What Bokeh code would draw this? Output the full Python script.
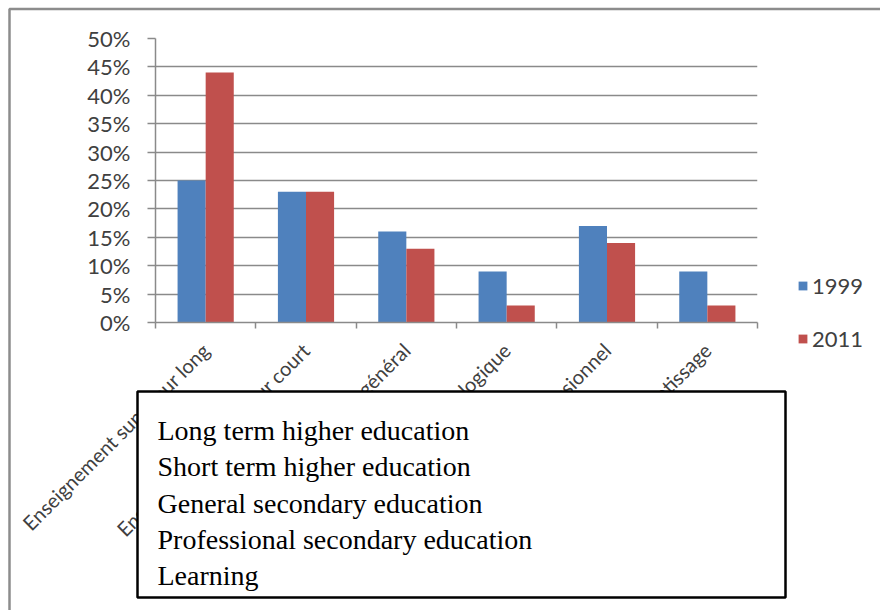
from bokeh.plotting import figure
from bokeh.models import (Range1d, FixedTicker, NumeralTickFormatter, Legend, LegendItem,
                          BoxAnnotation, Label, ColumnDataSource, CustomJSTickFormatter)
from bokeh.embed import file_html
from bokeh.resources import INLINE

# ---------------- data ----------------
categories = [
    "Enseignement supérieur long",
    "Enseignement supérieur court",
    "Secondaire général",
    "Secondaire technologique",
    "Secondaire professionnel",
    "Apprentissage",
]
series_names = ["1999", "2011"]
values_1999 = [0.25, 0.23, 0.16, 0.09, 0.17, 0.09]
values_2011 = [0.44, 0.23, 0.13, 0.03, 0.14, 0.03]
y_ticks = [0.0, 0.05, 0.10, 0.15, 0.20, 0.25, 0.30, 0.35, 0.40, 0.45, 0.50]
overlay_lines = [
    "Long term higher education",
    "Short term higher education",
    "General secondary education",
    "Professional secondary education",
    "Learning",
]

BLUE = "#4F81BD"
RED = "#C0504D"
TXT = "#404040"
GRID = "#8a8a8a"
FONT = "Lato"
W, H = 880, 610

centers = [i + 0.5 for i in range(len(categories))]
bar_w = 0.28
src = ColumnDataSource(dict(
    x1=[c - bar_w / 2 for c in centers],
    x2=[c + bar_w / 2 for c in centers],
    v1999=values_1999,
    v2011=values_2011,
))

# ---------------- main chart ----------------
p = figure(frame_width=602, frame_height=284,
           min_border_left=155, min_border_right=W - 155 - 602,
           min_border_top=38, min_border_bottom=H - 38 - 284,
           x_range=Range1d(0, len(categories)), y_range=Range1d(0, 0.5),
           output_backend="svg", toolbar_location=None, tools="")
p.outline_line_color = None
p.background_fill_color = "white"
p.border_fill_color = "white"

r1 = p.vbar(x="x1", top="v1999", width=bar_w, bottom=0, source=src,
            fill_color=BLUE, line_color=None)
r2 = p.vbar(x="x2", top="v2011", width=bar_w, bottom=0, source=src,
            fill_color=RED, line_color=None)

p.xgrid.visible = False
p.ygrid.ticker = FixedTicker(ticks=y_ticks)
p.ygrid.grid_line_color = GRID
p.ygrid.grid_line_width = 1.5

ya = p.yaxis[0]
ya.ticker = FixedTicker(ticks=y_ticks)
ya.formatter = NumeralTickFormatter(format="0%")
ya.axis_line_color = GRID
ya.axis_line_width = 1.5
ya.major_tick_line_color = GRID
ya.major_tick_line_width = 1.5
ya.major_tick_out = 8
ya.major_tick_in = 0
ya.minor_tick_line_color = None
ya.major_label_standoff = 17
ya.major_label_text_font = FONT
ya.major_label_text_font_size = "22px"
ya.major_label_text_color = TXT

xa = p.xaxis[0]
xa.ticker = FixedTicker(ticks=centers, minor_ticks=list(range(len(categories) + 1)))
xa.formatter = CustomJSTickFormatter(args=dict(names=categories),
                                     code="return names[Math.floor(tick)];")
xa.axis_line_color = GRID
xa.axis_line_width = 1.5
xa.major_tick_line_color = None
xa.major_tick_out = 0
xa.major_tick_in = 0
xa.minor_tick_line_color = GRID
xa.minor_tick_line_width = 1.5
xa.minor_tick_out = 6
xa.minor_tick_in = 0
xa.major_label_orientation = 0.7854
xa.major_label_standoff = 18
xa.major_label_text_font = FONT
xa.major_label_text_font_size = "20px"
xa.major_label_text_color = TXT

# ---------------- overlay layer (page pixel coordinates) ----------------
ov = figure(width=W, height=H, min_border=0,
            x_range=Range1d(0, W), y_range=Range1d(H, 0),
            x_axis_location=None, y_axis_location=None,
            output_backend="svg", toolbar_location=None, tools="")
ov.outline_line_color = None
ov.background_fill_color = None
ov.border_fill_color = None
ov.grid.visible = False
ov.styles = {"margin-top": f"-{H}px", "position": "relative", "z-index": "10"}

# outer chart border (only top/left visible)
ov.add_layout(BoxAnnotation(left=9, right=W + 20, top=8.5, bottom=H + 20,
                            fill_alpha=0, line_color="#8c8c8c", line_alpha=1,
                            line_width=2.5))

# legend (keys drawn from hidden copies of the bar series)
e1 = ov.vbar(x="x1", top="v1999", width=bar_w, source=src,
             fill_color=BLUE, line_color=None, visible=False)
e2 = ov.vbar(x="x2", top="v2011", width=bar_w, source=src,
             fill_color=RED, line_color=None, visible=False)
legend = Legend(items=[LegendItem(label=series_names[0], renderers=[e1]),
                       LegendItem(label=series_names[1], renderers=[e2])],
                location=(797, H - 352), orientation="vertical",
                glyph_width=11, glyph_height=11, label_height=24,
                label_standoff=4, spacing=26, padding=0, margin=0,
                border_line_color=None, background_fill_alpha=0,
                label_text_font=FONT, label_text_font_size="22px",
                label_text_color=TXT)
ov.add_layout(legend, "center")

# translation box
ov.add_layout(BoxAnnotation(left=137, right=785, top=391, bottom=597,
                            fill_color="white", fill_alpha=1, line_color="black",
                            line_alpha=1, line_width=2.5))
for i, txt in enumerate(overlay_lines):
    ov.add_layout(Label(x=157, y=430 + 36.3 * i, text=txt,
                        text_font="Liberation Serif", text_font_size="28px",
                        text_color="black", text_baseline="alphabetic", text_align="left"))

open("out.html", "w").write(file_html([p, ov], INLINE))
